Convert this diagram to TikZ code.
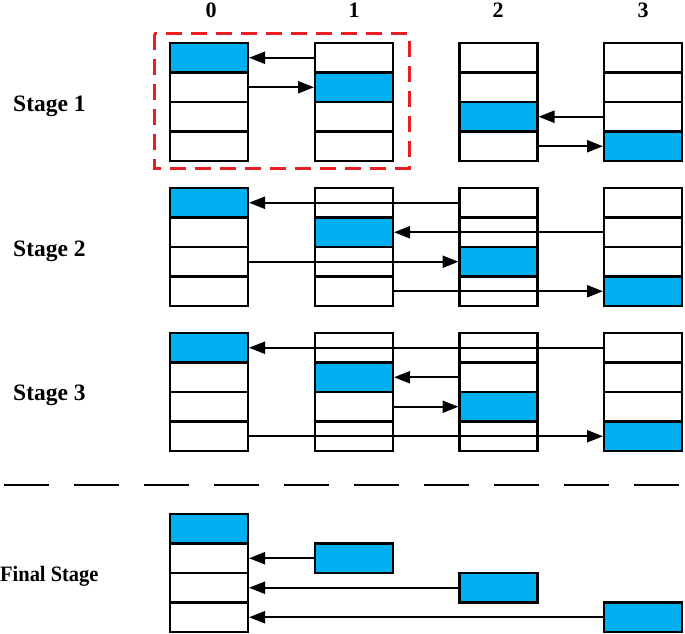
\documentclass[tikz,border=0pt]{standalone}
\usepackage{fontspec}
\setmainfont{Liberation Serif}
\usetikzlibrary{arrows.meta}
\definecolor{cellblue}{RGB}{0,176,240}
\definecolor{redbox}{RGB}{235,30,35}
\begin{document}
\begin{tikzpicture}[x=1pt,y=-1pt,
  cell/.style={draw=black,line width=2.8pt,rectangle,minimum width=78pt,minimum height=29.5pt,inner sep=0pt,outer sep=0pt},
  arr/.style={line width=2.2pt,-{Triangle[length=16pt,width=12pt]},shorten >=1pt},
  lbl/.style={font=\fontsize{22}{26}\selectfont\bfseries,anchor=base,inner sep=0pt},
  stagelbl/.style={font=\fontsize{23.5}{26}\selectfont\bfseries,anchor=base west,inner sep=0pt}]
\useasboundingbox (0,0) rectangle (685,634);
% column labels
\node[lbl] (h0) at (211,18) {0};
\node[lbl] (h1) at (354,18) {1};
\node[lbl] (h2) at (498,18) {2};
\node[lbl] (h3) at (643,18) {3};
% stage labels
\node[stagelbl] (l1) at (13,111) {Stage 1};
\node[stagelbl] (l2) at (13,256) {Stage 2};
\node[stagelbl] (l3) at (13,400) {Stage 3};
\node[font=\fontsize{22}{24}\selectfont\bfseries,anchor=base west,inner sep=0pt] (lf) at (0,581) {\scalebox{0.93}[1]{Final Stage}};
% stages 1-3
\foreach \s/\top in {1/43,2/188,3/333} {
  \foreach \c/\x in {0/170,1/315,2/459.5,3/604} {
    \foreach \r in {0,...,3} {
      \ifnum\r=\c \def\fc{cellblue}\else\def\fc{white}\fi
      \node[cell,fill=\fc] (s\s-c\c-r\r) at (\x+39,\top+\r*29.5+14.75) {};
    }
  }
}
% final stage
\foreach \r in {0,...,3} {
  \ifnum\r=0 \def\fc{cellblue}\else\def\fc{white}\fi
  \node[cell,fill=\fc] (f-c0-r\r) at (209,514+\r*29.5+14.75) {};
}
\node[cell,fill=cellblue] (f-c1) at (354,514+29.5+14.75) {};
\node[cell,fill=cellblue] (f-c2) at (498.5,514+59+14.75) {};
\node[cell,fill=cellblue] (f-c3) at (643,514+88.5+14.75) {};
% red dashed frame
\draw[redbox,line width=3pt,dash pattern=on 16pt off 9pt] (154,34) rectangle (409,168);
% separator
\draw[line width=2.8pt,dash pattern=on 45pt off 25pt] (4,485) -- (685,485);
% arrows stage 1
\draw[arr] (s1-c1-r0.west) -- (s1-c0-r0.east);
\draw[arr] (s1-c0-r1.east) -- (s1-c1-r1.west);
\draw[arr] (s1-c3-r2.west) -- (s1-c2-r2.east);
\draw[arr] (s1-c2-r3.east) -- (s1-c3-r3.west);
% arrows stage 2
\draw[arr] (s2-c2-r0.west) -- (s2-c0-r0.east);
\draw[arr] (s2-c3-r1.west) -- (s2-c1-r1.east);
\draw[arr] (s2-c0-r2.east) -- (s2-c2-r2.west);
\draw[arr] (s2-c1-r3.east) -- (s2-c3-r3.west);
% arrows stage 3
\draw[arr] (s3-c3-r0.west) -- (s3-c0-r0.east);
\draw[arr] (s3-c2-r1.west) -- (s3-c1-r1.east);
\draw[arr] (s3-c1-r2.east) -- (s3-c2-r2.west);
\draw[arr] (s3-c0-r3.east) -- (s3-c3-r3.west);
% arrows final
\draw[arr] (f-c1.west) -- (f-c0-r1.east);
\draw[arr] (f-c2.west) -- (f-c0-r2.east);
\draw[arr] (f-c3.west) -- (f-c0-r3.east);
\end{tikzpicture}
\end{document}
